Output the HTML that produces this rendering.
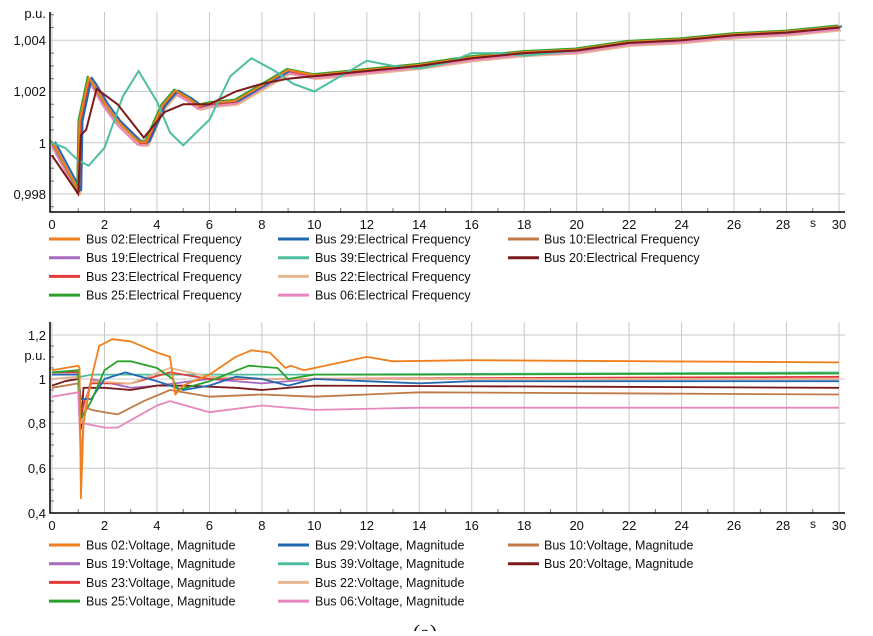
<!DOCTYPE html>
<html><head><meta charset="utf-8"><style>
body{margin:0;background:#fff;width:873px;height:631px;overflow:hidden}
svg text{font-family:"Liberation Sans",sans-serif;fill:#111}
</style></head><body>
<svg width="873" height="631" xmlns="http://www.w3.org/2000/svg">
<defs>
<path id="fb" d="M52,142.7 L78.2,191.3 L79.5,122.2 L88.7,78.7 L94,86.4 L104.5,104.3 L117.6,122.2 L138.6,142.7 L146.4,142.7 L162.2,106.9 L175.3,91.5 L188.4,99.2 L198.9,106.9 L209.4,104.3 L235.6,101.7 L261.9,86.4 L288.1,71 L301.2,73.6 L314.3,76.1 L340.6,73.6 L366.8,71 L419.3,65.9 L471.7,58.2 L524.2,53.1 L576.7,50.5 L629.1,42.9 L681.6,40.3 L734,35.2 L786.5,32.6 L839,27.5" fill="none" stroke-width="2" stroke-linejoin="round"/>
</defs>
<g stroke="#c8c8c8" stroke-width="1" fill="none">
<path d="M52 12V212M104.5 12V212M156.9 12V212M209.4 12V212M261.9 12V212M314.3 12V212M366.8 12V212M419.3 12V212M471.7 12V212M524.2 12V212M576.7 12V212M629.1 12V212M681.6 12V212M734 12V212M786.5 12V212M839 12V212"/>
<path d="M50 40.3H845M50 91.5H845M50 142.7H845M50 193.9H845"/>
<path d="M52 322V513M104.5 322V513M156.9 322V513M209.4 322V513M261.9 322V513M314.3 322V513M366.8 322V513M419.3 322V513M471.7 322V513M524.2 322V513M576.7 322V513M629.1 322V513M681.6 322V513M734 322V513M786.5 322V513M839 322V513"/>
<path d="M50 335H845M50 379H845M50 423.3H845M50 468.3H845"/>
</g>
<g stroke="#777" fill="none">
<path d="M78.2 208v4M130.7 208v4M183.2 208v4M235.6 208v4M288.1 208v4M340.6 208v4M393 208v4M445.5 208v4M498 208v4M550.4 208v4M602.9 208v4M655.4 208v4M707.8 208v4M760.3 208v4M812.7 208v4"/>
<path d="M78.2 509v4M130.7 509v4M183.2 509v4M235.6 509v4M288.1 509v4M340.6 509v4M393 509v4M445.5 509v4M498 509v4M550.4 509v4M602.9 509v4M655.4 509v4M707.8 509v4M760.3 509v4M812.7 509v4"/>
<path d="M50 14.7h4M50 27.5h4M50 53.1h4M50 65.9h4M50 78.7h4M50 104.3h4M50 117.1h4M50 129.9h4M50 155.5h4M50 168.3h4M50 181.1h4M50 206.7h4"/>
<path d="M50 346h4M50 357h4M50 368h4M50 390h4M50 401h4M50 412h4M50 434h4M50 445h4M50 456h4M50 479h4M50 490h4M50 501h4"/>
</g>
<g stroke="#000" stroke-width="1.5" fill="none">
<path d="M50 12V212H845"/><path d="M50 322V513H845"/>
</g>
<g font-size="13" text-anchor="end">
<text x="46" y="18">p.u.</text>
<text x="46" y="45">1,004</text><text x="46" y="96">1,002</text><text x="46" y="148">1</text><text x="46" y="199">0,998</text>
<text x="46" y="340">1,2</text><text x="46" y="360">p.u.</text><text x="46" y="384">1</text><text x="46" y="428">0,8</text><text x="46" y="473">0,6</text><text x="46" y="518">0,4</text>
</g>
<g font-size="13" text-anchor="middle">
<text x="52" y="229">0</text><text x="104.5" y="229">2</text><text x="156.9" y="229">4</text><text x="209.4" y="229">6</text><text x="261.9" y="229">8</text><text x="314.3" y="229">10</text><text x="366.8" y="229">12</text><text x="419.3" y="229">14</text><text x="471.7" y="229">16</text><text x="524.2" y="229">18</text><text x="576.7" y="229">20</text><text x="629.1" y="229">22</text><text x="681.6" y="229">24</text><text x="734" y="229">26</text><text x="783" y="229">28</text><text x="813" y="227" font-size="12">s</text><text x="839" y="229">30</text>
<text x="52" y="530">0</text><text x="104.5" y="530">2</text><text x="156.9" y="530">4</text><text x="209.4" y="530">6</text><text x="261.9" y="530">8</text><text x="314.3" y="530">10</text><text x="366.8" y="530">12</text><text x="419.3" y="530">14</text><text x="471.7" y="530">16</text><text x="524.2" y="530">18</text><text x="576.7" y="530">20</text><text x="629.1" y="530">22</text><text x="681.6" y="530">24</text><text x="734" y="530">26</text><text x="783" y="530">28</text><text x="813" y="528" font-size="12">s</text><text x="839" y="530">30</text>
</g>
<use href="#fb" stroke="#c07a47" transform="translate(0,1)"/>
<use href="#fb" stroke="#a66bbf" transform="translate(1,2)"/>
<use href="#fb" stroke="#e8b890" transform="translate(2,3)"/>
<use href="#fb" stroke="#e887be" transform="translate(-1,2)"/>
<use href="#fb" stroke="#e23b3b" transform="translate(1,0)"/>
<use href="#fb" stroke="#2268b0" transform="translate(3,-1)"/>
<use href="#fb" stroke="#2ca02c" transform="translate(-1,-2)"/>
<use href="#fb" stroke="#f07f1d" transform="translate(0,-1)"/>
<path d="M52,142.7 L65.1,147.8 L78.2,160.6 L88.7,165.7 L104.5,147.8 L122.8,96.6 L138.6,71 L157,101.7 L170,132.5 L183.2,145.3 L209.4,119.7 L230.4,76.1 L251.4,58.2 L275,71 L293.3,83.8 L314.3,91.5 L340.6,76.1 L366.8,60.8 L393,65.9 L419.3,68.5 L445.5,63.3 L471.7,53.1 L498,53.1 L524.2,55.7 L576.7,50.5 L629.1,42.9 L681.6,40.3 L734,35.2 L786.5,32.6 L839,27.5" fill="none" stroke="#4dbfa0" stroke-width="2"/>
<path d="M52,155.5 L78.2,193.9 L80.9,135 L86.1,129.9 L96.6,88.9 L117.6,104.3 L143.8,137.6 L164.8,112 L183.2,104.3 L209.4,104.3 L235.6,91.5 L261.9,83.8 L288.1,78.7 L314.3,76.1 L340.6,73.6 L366.8,71 L419.3,65.9 L471.7,58.2 L524.2,53.1 L576.7,50.5 L629.1,42.9 L681.6,40.3 L734,35.2 L786.5,32.6 L839,27.5" fill="none" stroke="#7a1a1a" stroke-width="2"/>
<g fill="none" stroke-width="1.8" stroke-linejoin="round">
<path stroke="#4dbfa0" d="M52,374.6 L78.2,374.6 L80.9,376.8 L91.3,374.6 L314.3,374.6 L839,372.4"/>
<path stroke="#c07a47" d="M52,387.8 L78.2,383.4 L80.9,429.8 L83.5,405.5 L91.3,409.9 L104.5,412.2 L117.6,414.4 L143.8,401.1 L170,390 L209.4,396.7 L261.9,394.5 L314.3,396.7 L419.3,392.3 L839,394.5"/>
<path stroke="#a66bbf" d="M52,379 L78.2,376.8 L80.9,423.2 L91.3,379 L130.7,387.8 L157,385.6 L209.4,379 L261.9,383.4 L314.3,379 L839,379"/>
<path stroke="#7a1a1a" d="M52,385.6 L65.1,381.2 L78.2,379 L80.9,427.6 L83.5,387.8 L104.5,387.8 L130.7,390 L157,385.6 L183.2,385.6 L235.6,387.8 L261.9,390 L314.3,385.6 L839,387.8"/>
<path stroke="#e23b3b" d="M52,372.4 L78.2,372.4 L80.9,412.2 L91.3,383.4 L130.7,383.4 L170,372.4 L209.4,379 L261.9,379 L839,376.8"/>
<path stroke="#e8b890" d="M52,379 L78.2,376.8 L80.9,423.2 L91.3,381.2 L130.7,383.4 L170,368 L209.4,376.8 L261.9,379 L839,379"/>
<path stroke="#2268b0" d="M52,374.6 L78.2,374.6 L80.9,399 L91.3,399 L104.5,379 L125.5,372.4 L157,381.2 L183.2,390 L209.4,385.6 L235.6,376.8 L261.9,379 L288.1,385.6 L314.3,379 L419.3,383.4 L471.7,381.2 L839,381.2"/>
<path stroke="#2ca02c" d="M52,372.4 L78.2,370.2 L80.9,418.8 L91.3,401.1 L104.5,370.2 L117.6,361.3 L130.7,361.3 L157,368 L172.7,379 L177.9,390 L209.4,381.2 L248.7,365.7 L277.6,368 L288.1,379 L314.3,374.6 L419.3,374.6 L839,373.5"/>
<path stroke="#e887be" d="M52,396.7 L78.2,392.3 L80.9,456.4 L83.5,423.2 L104.5,427.6 L117.6,427.6 L157,405.5 L170,401.1 L209.4,412.2 L261.9,405.5 L314.3,409.9 L419.3,407.7 L839,407.7"/>
<path stroke="#f07f1d" d="M52,370.2 L78.2,365.7 L79.5,368 L80.9,498.3 L83.5,423.2 L91.3,379 L99.2,345.9 L112.3,339.2 L130.7,341.4 L157,352.5 L170,356.9 L175.3,394.5 L183.2,385.6 L209.4,374.6 L235.6,356.9 L251.4,350.3 L269.7,352.5 L285.5,368 L290.7,365.7 L303.8,370.2 L314.3,368 L366.8,356.9 L393,361.3 L471.7,360.2 L839,362.4"/>
</g>
<g stroke-width="3" fill="none">
<path stroke="#f07f1d" d="M49 239h31M49 545h31"/><path stroke="#2268b0" d="M278 239h31M278 545h31"/><path stroke="#c07a47" d="M508 239h31M508 545h31"/>
<path stroke="#a66bbf" d="M49 257.7h31M49 563.7h31"/><path stroke="#4dbfa0" d="M278 257.7h31M278 563.7h31"/><path stroke="#7a1a1a" d="M508 257.7h31M508 563.7h31"/>
<path stroke="#e23b3b" d="M49 276.4h31M49 582.4h31"/><path stroke="#e8b890" d="M278 276.4h31M278 582.4h31"/>
<path stroke="#2ca02c" d="M49 295.1h31M49 601.1h31"/><path stroke="#e887be" d="M278 295.1h31M278 601.1h31"/>
</g>
<g font-size="12.5">
<text x="86" y="243.5">Bus 02:Electrical Frequency</text><text x="315" y="243.5">Bus 29:Electrical Frequency</text><text x="544" y="243.5">Bus 10:Electrical Frequency</text>
<text x="86" y="262.2">Bus 19:Electrical Frequency</text><text x="315" y="262.2">Bus 39:Electrical Frequency</text><text x="544" y="262.2">Bus 20:Electrical Frequency</text>
<text x="86" y="280.9">Bus 23:Electrical Frequency</text><text x="315" y="280.9">Bus 22:Electrical Frequency</text>
<text x="86" y="299.6">Bus 25:Electrical Frequency</text><text x="315" y="299.6">Bus 06:Electrical Frequency</text>
<text x="86" y="549.5">Bus 02:Voltage, Magnitude</text><text x="315" y="549.5">Bus 29:Voltage, Magnitude</text><text x="544" y="549.5">Bus 10:Voltage, Magnitude</text>
<text x="86" y="568.2">Bus 19:Voltage, Magnitude</text><text x="315" y="568.2">Bus 39:Voltage, Magnitude</text><text x="544" y="568.2">Bus 20:Voltage, Magnitude</text>
<text x="86" y="586.9">Bus 23:Voltage, Magnitude</text><text x="315" y="586.9">Bus 22:Voltage, Magnitude</text>
<text x="86" y="605.6">Bus 25:Voltage, Magnitude</text><text x="315" y="605.6">Bus 06:Voltage, Magnitude</text>
</g>
<text x="425" y="640" font-size="22" text-anchor="middle" style="font-family:'Liberation Serif',serif">(a)</text>
</svg>
</body></html>
